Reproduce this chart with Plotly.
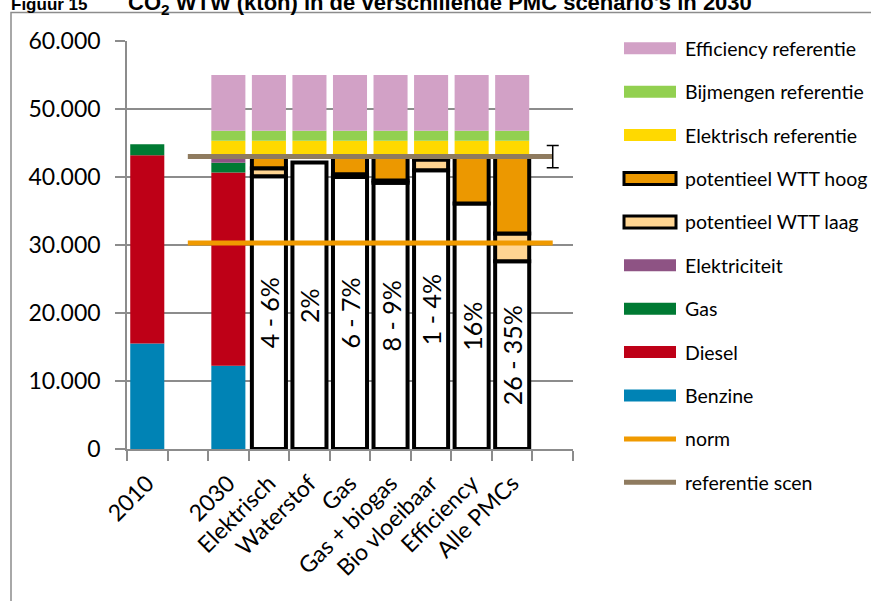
import plotly.graph_objects as go

# --- data (kton CO2 WTW) ---------------------------------------------------
categories = ["2010", " ", "2030", "Elektrisch", "Waterstof", "Gas",
              "Gas + biogas", "Bio vloeibaar", "Efficiency", "Alle PMCs", "  "]

benzine       = [15500, None, 12250, None, None, None, None, None, None, None, None]
diesel        = [27700, None, 28400, None, None, None, None, None, None, None, None]
gas           = [1600,  None, 1450,  None, None, None, None, None, None, None, None]
elektriciteit = [None,  None, 900,   None, None, None, None, None, None, None, None]

# scenario bars: remaining emission + low / high WTT potential
scenario      = [None, None, None, 40100, 42140, 39990, 39150, 41000, 36120, 27600, None]
wtt_laag      = [None, None, None, 1200,  None,  430,   350,   1570,  None,  4100,  None]
wtt_hoog      = [None, None, None, 1700,  None,  2580,  3500,  430,   6880,  11300, None]
scenario_pct  = ["", "", "", "4 - 6%", "2%", "6 - 7%", "8 - 9%", "1 - 4%", "16%", "26 - 35%", ""]

# reference layers stacked on top of the 2030 reference total
referentie_scen = 43000
elektrisch_ref  = [None, None, 2340, 2340, 2340, 2340, 2340, 2340, 2340, 2340, None]
bijmengen_ref   = [None, None, 1460, 1460, 1460, 1460, 1460, 1460, 1460, 1460, None]
efficiency_ref  = [None, None, 8200, 8200, 8200, 8200, 8200, 8200, 8200, 8200, None]

norm = 30300
referentie_band = 1650
line_cats = categories[1:]

# --- colours ---------------------------------------------------------------
C = dict(
    benzine="#0083B5", diesel="#BE0017", gas="#007A33", elek="#8E5384",
    hoog="#EC9800", laag="#FFD592", elek_ref="#FFD900", bijm="#92D050",
    eff="#D2A1C6", norm="#F09A00", ref="#8F7B5F", grid="#8C8C8C",
)

W, H = 871, 601
ML, MR, MT, MB = 127, 298, 41, 152
PW, PH = W - ML - MR, H - MT - MB


def px(x):
    return (x - ML) / PW


def py(y):
    return (H - MB - y) / PH


def v(a):
    return 0 if a is None else a


def bases(*layers, start=None):
    """Cumulative bottoms for a list of stacked layers."""
    acc = [0 if start is None else start[i] for i in range(len(categories))]
    out = []
    for layer in layers:
        out.append(list(acc))
        acc = [acc[i] + v(layer[i]) for i in range(len(categories))]
    return out


fig = go.Figure()

# historic / 2030 fuel stack
b_fuel = bases(benzine, diesel, gas, elektriciteit)
for vals, base, col in zip([benzine, diesel, gas, elektriciteit], b_fuel,
                           [C["benzine"], C["diesel"], C["gas"], C["elek"]]):
    fig.add_trace(go.Bar(x=categories, y=vals, base=base, width=0.84,
                         marker=dict(color=col, line=dict(width=0))))

# scenario stacks with black outline
b_scen = bases(scenario, wtt_laag, wtt_hoog)
fig.add_trace(go.Bar(
    x=categories, y=scenario, base=b_scen[0], width=0.84,
    marker=dict(color="white", line=dict(color="black", width=4)),
    text=scenario_pct, textposition="inside", insidetextanchor="middle",
    textangle=-90, constraintext="none",
    insidetextfont=dict(size=25, color="black", family="Lato"),
))
fig.add_trace(go.Bar(x=categories, y=wtt_laag, base=b_scen[1], width=0.84,
                     marker=dict(color=C["laag"], line=dict(color="black", width=4))))
fig.add_trace(go.Bar(x=categories, y=wtt_hoog, base=b_scen[2], width=0.84,
                     marker=dict(color=C["hoog"], line=dict(color="black", width=4))))

# reference layers on top of the reference total
ref_start = [referentie_scen] * len(categories)
b_ref = bases(elektrisch_ref, bijmengen_ref, efficiency_ref, start=ref_start)
for vals, base, col in zip([elektrisch_ref, bijmengen_ref, efficiency_ref], b_ref,
                           [C["elek_ref"], C["bijm"], C["eff"]]):
    fig.add_trace(go.Bar(x=categories, y=vals, base=base, width=0.84,
                         marker=dict(color=col, line=dict(width=0))))

# horizontal norm and reference lines
fig.add_trace(go.Scatter(x=line_cats, y=[norm] * len(line_cats), mode="lines",
                         line=dict(color=C["norm"], width=5)))
fig.add_trace(go.Scatter(x=line_cats, y=[referentie_scen] * len(line_cats), mode="lines",
                         line=dict(color=C["ref"], width=5)))
fig.add_trace(go.Scatter(x=[categories[-1]], y=[referentie_scen], mode="markers",
                         marker=dict(size=1, color="rgba(0,0,0,0)"),
                         error_y=dict(type="data", array=[referentie_band], color="black",
                                      thickness=1.5, width=6)))

# --- legend (drawn beside the plot) ----------------------------------------
legend_items = [
    ("Efficiency referentie", C["eff"], "box"),
    ("Bijmengen referentie", C["bijm"], "box"),
    ("Elektrisch referentie", C["elek_ref"], "box"),
    ("potentieel WTT hoog", C["hoog"], "outlined"),
    ("potentieel WTT laag", C["laag"], "outlined"),
    ("Elektriciteit", C["elek"], "box"),
    ("Gas", C["gas"], "box"),
    ("Diesel", C["diesel"], "box"),
    ("Benzine", C["benzine"], "box"),
    ("norm", C["norm"], "line"),
    ("referentie scen", C["ref"], "line"),
]
shapes = []
annotations = []
for i, (name, col, kind) in enumerate(legend_items):
    yc = 48.3 + 43.4 * i
    if kind == "line":
        shapes.append(dict(type="line", xref="paper", yref="paper",
                           x0=px(624), x1=px(676), y0=py(yc), y1=py(yc),
                           line=dict(color=col, width=5)))
    else:
        lw = 3 if kind == "outlined" else 0
        shapes.append(dict(type="rect", xref="paper", yref="paper",
                           x0=px(624), x1=px(676), y0=py(yc - 6), y1=py(yc + 6),
                           fillcolor=col, line=dict(color="black", width=lw)))
    annotations.append(dict(text=name, xref="paper", yref="paper", x=px(683), y=py(yc),
                            xanchor="left", yanchor="middle", showarrow=False,
                            font=dict(size=19.5, family="Lato", color="black")))

# chart frame
shapes.append(dict(type="rect", xref="paper", yref="paper", layer="below",
                   x0=px(11), x1=px(900), y0=py(630), y1=py(12.5),
                   line=dict(color="#8C8C8C", width=1.5), fillcolor="rgba(0,0,0,0)"))

# heading (runs off the top of the page)
annotations.append(dict(text="<b>Figuur 15</b>", xref="paper", yref="paper",
                        x=px(9), y=py(-7), xanchor="left", yanchor="top", showarrow=False,
                        font=dict(size=17, family="Liberation Sans", color="black")))
annotations.append(dict(text="<b>CO<sub>2</sub> WTW (kton) in de verschillende PMC scenario's in 2030</b>",
                        xref="paper", yref="paper", x=px(126), y=py(-12),
                        xanchor="left", yanchor="top", showarrow=False,
                        font=dict(size=22, family="Liberation Sans", color="black")))

fig.update_layout(
    width=W, height=H,
    margin=dict(l=ML, r=MR, t=MT, b=MB),
    plot_bgcolor="white", paper_bgcolor="white",
    barmode="overlay", showlegend=False, separators=",.",
    font=dict(family="Lato", color="black"),
    shapes=shapes, annotations=annotations,
    xaxis=dict(type="category", categoryorder="array", categoryarray=categories,
               range=[-0.5, len(categories) - 0.5],
               showline=True, linecolor=C["grid"], linewidth=1.5,
               ticks="outside", tickson="boundaries", ticklen=10,
               tickcolor=C["grid"], tickwidth=1.5, ticklabelstandoff=10,
               tickangle=-45, tickfont=dict(size=23), showgrid=False),
    yaxis=dict(range=[0, 60000], dtick=10000, tickformat=",",
               showgrid=True, gridcolor=C["grid"], gridwidth=1.5,
               showline=True, linecolor=C["grid"], linewidth=1.5,
               ticks="outside", ticklen=10, tickcolor=C["grid"], tickwidth=1.5,
               ticklabelstandoff=10,
               tickfont=dict(size=23), zeroline=False),
)

fig.write_html("out.html")
